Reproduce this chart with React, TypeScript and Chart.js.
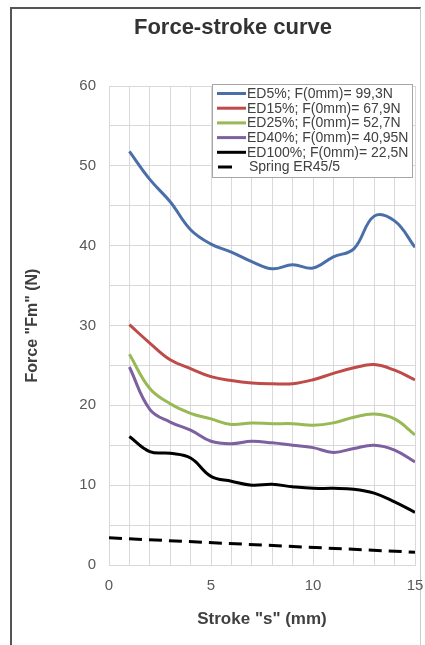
import React, { useEffect, useRef } from 'react';
import { Chart, registerables } from 'chart.js';

Chart.register(...registerables);

const chartTitle = 'Force-stroke curve';
const xTitle = 'Stroke "s" (mm)';
const yTitle = 'Force "Fm" (N)';

const strokes = [1, 2, 3, 4, 5, 6, 7, 8, 9, 10, 11, 12, 13, 14, 15];
const ed5 = [51.8, 48.3, 45.5, 42.0, 40.2, 39.2, 38.0, 37.1, 37.6, 37.2, 38.6, 39.6, 43.7, 43.1, 39.8];
const ed15 = [30.1, 27.8, 25.7, 24.6, 23.6, 23.1, 22.8, 22.7, 22.7, 23.2, 24.0, 24.7, 25.1, 24.4, 23.2];
const ed25 = [26.4, 22.1, 20.2, 19.0, 18.3, 17.6, 17.8, 17.7, 17.7, 17.5, 17.8, 18.5, 18.9, 18.3, 16.3];
const ed40 = [24.8, 19.5, 17.9, 16.9, 15.5, 15.2, 15.5, 15.3, 15.0, 14.7, 14.1, 14.6, 15.0, 14.4, 12.9];
const ed100 = [16.1, 14.2, 14.0, 13.4, 11.1, 10.5, 10.0, 10.1, 9.8, 9.6, 9.6, 9.5, 9.0, 7.9, 6.6];
const springStrokes = [0, 15];
const springForce = [3.4, 1.6];

const seriesLabels = [
  'ED5%; F(0mm)= 99,3N',
  'ED15%; F(0mm)= 67,9N',
  'ED25%; F(0mm)= 52,7N',
  'ED40%; F(0mm)= 40,95N',
  'ED100%; F(0mm)= 22,5N',
  'Spring ER45/5',
];
const seriesColors = ['#4a6fa8', '#be4b48', '#98b954', '#7d60a0', '#000000', '#000000'];

const FONT = '"Liberation Sans", Arial, sans-serif';

const toXY = (xs: number[], ys: number[]) => xs.map((x, i) => ({ x, y: ys[i] }));

const overlayPlugin = {
  id: 'overlay',
  afterDraw(chart: any) {
    const ctx = chart.ctx;
    ctx.save();
    ctx.fillStyle = '#333333';
    ctx.font = `bold 22px ${FONT}`;
    ctx.textAlign = 'center';
    ctx.textBaseline = 'middle';
    ctx.fillText(chartTitle, 233, 28);

    const bx = 212, by = 84, bw = 200, bh = 93;
    ctx.fillStyle = '#ffffff';
    ctx.fillRect(bx, by, bw, bh);
    ctx.strokeStyle = '#a6a6a6';
    ctx.lineWidth = 1;
    ctx.strokeRect(bx + 0.5, by + 0.5, bw, bh);

    ctx.font = `14px ${FONT}`;
    ctx.textAlign = 'left';
    ctx.textBaseline = 'middle';
    chart.data.datasets.forEach((ds: any, i: number) => {
      const y = 93.5 + i * 14.7;
      ctx.strokeStyle = ds.borderColor;
      ctx.lineWidth = 3;
      ctx.setLineDash([]);
      ctx.beginPath();
      if (ds.borderDash && ds.borderDash.length) {
        ctx.moveTo(218, y);
        ctx.lineTo(232, y);
      } else {
        ctx.moveTo(217, y);
        ctx.lineTo(246, y);
      }
      ctx.stroke();
      ctx.fillStyle = '#404040';
      ctx.fillText(ds.label, ds.borderDash && ds.borderDash.length ? 249 : 247, y + 0.5);
    });
    ctx.restore();
  },
};

export default function App() {
  const canvasRef = useRef<HTMLCanvasElement | null>(null);

  useEffect(() => {
    const canvas = canvasRef.current;
    if (!canvas) return;
    const mk = (i: number, data: any[], extra: any = {}) => ({
      label: seriesLabels[i],
      data,
      borderColor: seriesColors[i],
      backgroundColor: seriesColors[i],
      borderWidth: 3,
      pointRadius: 0,
      tension: 0.4,
      fill: false,
      ...extra,
    });
    const chart = new Chart(canvas, {
      type: 'line',
      data: {
        datasets: [
          mk(0, toXY(strokes, ed5)),
          mk(1, toXY(strokes, ed15)),
          mk(2, toXY(strokes, ed25)),
          mk(3, toXY(strokes, ed40)),
          mk(4, toXY(strokes, ed100)),
          mk(5, toXY(springStrokes, springForce), { borderDash: [13, 7], tension: 0 }),
        ],
      },
      options: {
        animation: false,
        responsive: false,
        devicePixelRatio: 1,
        layout: { padding: { top: 86, right: 0, left: 0, bottom: 0 } },
        plugins: {
          legend: { display: false },
          title: { display: false },
          tooltip: { enabled: false },
        },
        scales: {
          x: {
            type: 'linear',
            min: 0,
            max: 15,
            afterFit: (s: any) => { s.height = 80; s.paddingRight = 10; },
            ticks: {
              stepSize: 1,
              autoSkip: false,
              maxRotation: 0,
              padding: 12,
              color: '#595959',
              font: { family: FONT, size: 15 },
              callback: (v: any) => (Number(v) % 5 === 0 ? String(v) : ''),
            },
            grid: { color: '#d9d9d9', drawTicks: false },
            border: { color: '#d9d9d9' },
            title: {
              display: true,
              text: xTitle,
              color: '#404040',
              font: { family: FONT, size: 17, weight: 'bold' },
              padding: { top: 15, bottom: 15 },
            },
          },
          y: {
            min: 0,
            max: 60,
            afterFit: (s: any) => { s.width = 109; },
            ticks: {
              stepSize: 5,
              padding: 13,
              color: '#595959',
              font: { family: FONT, size: 15 },
              callback: (v: any) => (Number(v) % 10 === 0 ? String(v) : ''),
            },
            grid: { color: '#d9d9d9', drawTicks: false },
            border: { color: '#d9d9d9' },
            title: {
              display: true,
              text: yTitle,
              color: '#404040',
              font: { family: FONT, size: 16, weight: 'bold' },
              padding: { top: 23, bottom: 23 },
            },
          },
        },
      } as any,
      plugins: [overlayPlugin],
    });
    return () => chart.destroy();
  }, []);

  return (
    <div style={{ position: 'fixed', left: 0, top: 0, width: 425, height: 645, background: '#fff', overflow: 'hidden' }}>
      <div
        style={{
          position: 'absolute',
          left: 10,
          top: 7,
          width: 408,
          height: 700,
          borderTop: '2px solid #555',
          borderLeft: '2px solid #555',
          borderRight: '1px solid #ccc',
        }}
      />
      <canvas ref={canvasRef} width={425} height={645} style={{ position: 'absolute', left: 0, top: 0, width: 425, height: 645 }} />
    </div>
  );
}
